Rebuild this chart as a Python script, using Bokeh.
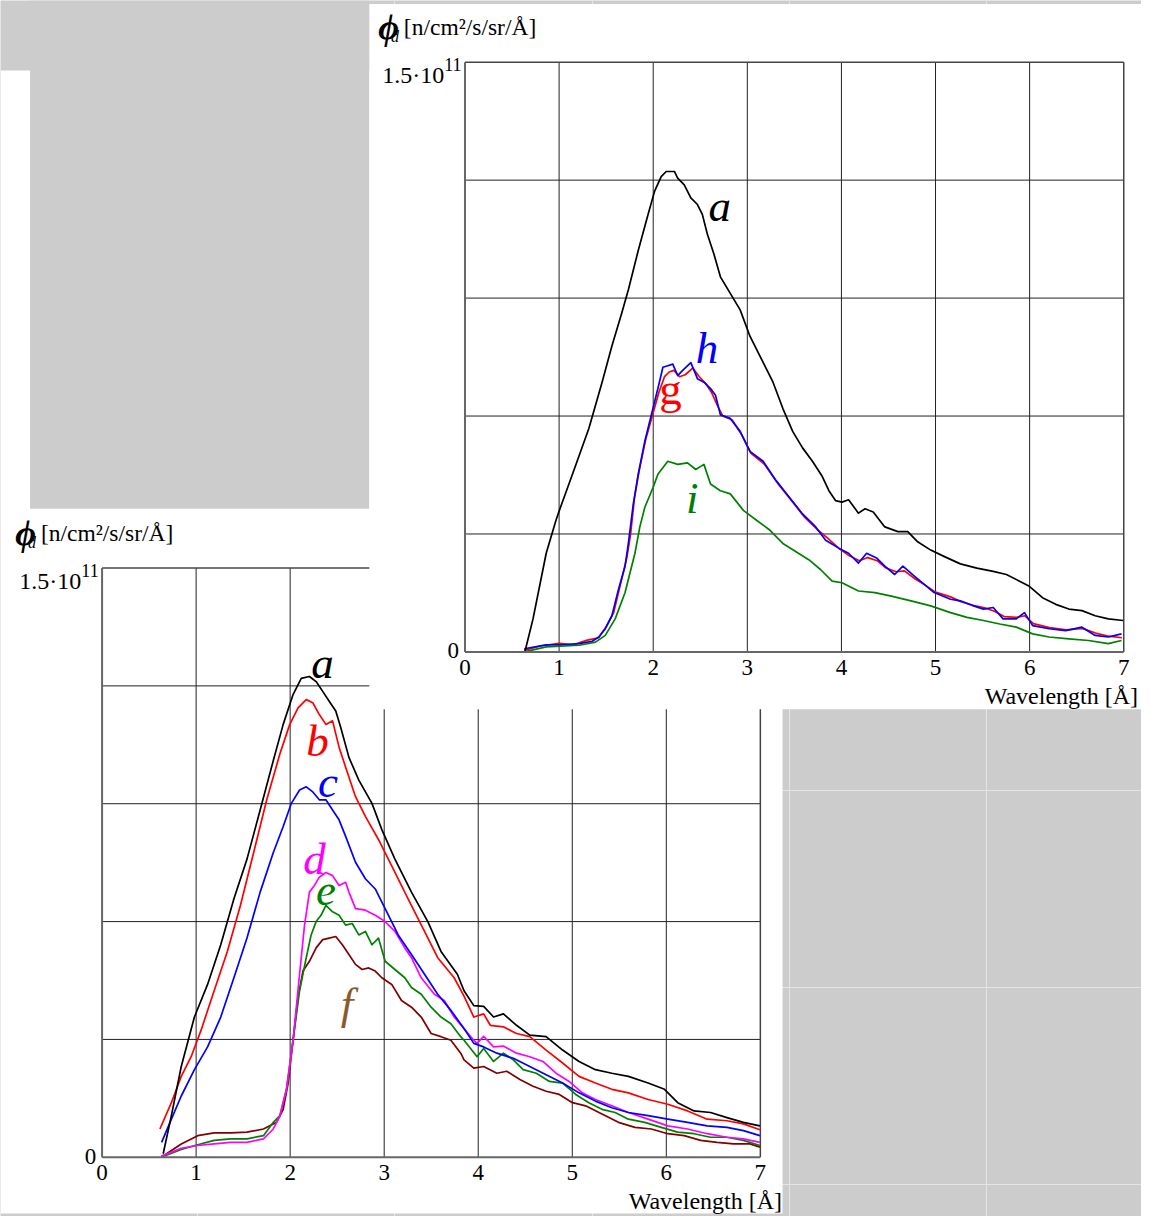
from bokeh.plotting import figure
from bokeh.models import Range1d
from bokeh.embed import file_html
from bokeh.resources import INLINE
from bokeh.core.properties import value

# ---------------- data: flux phi_d in units of 1e11 n/cm^2/s/sr/Å vs wavelength [Å] ----------------
X_TICKS = [0, 1, 2, 3, 4, 5, 6, 7]
X_TICK_LABELS = ["0", "1", "2", "3", "4", "5", "6", "7"]
Y_GRID = [0.3, 0.6, 0.9, 1.2]
Y_MAX = 1.5
Y_TOP_LABEL = "1.5\u00b710"
Y_TOP_EXP = "11"
Y_ZERO_LABEL = "0"
X_TITLE = "Wavelength [\u00c5]"
Y_TITLE_SYM = "\u03d5"
Y_TITLE_SUB = "d"
Y_TITLE_UNIT = "[n/cm\u00b2/s/sr/\u00c5]"

# upper-right panel
TOP_A = [(0.636, 0.0), (0.723, 0.084), (0.863, 0.251), (0.967, 0.335), (1.003, 0.36), (1.142, 0.452),
         (1.317, 0.569), (1.457, 0.686), (1.561, 0.778), (1.666, 0.862), (1.736, 0.921), (1.841, 1.021),
         (1.946, 1.113), (2.015, 1.172), (2.085, 1.209), (2.138, 1.222), (2.225, 1.222), (2.26, 1.205),
         (2.33, 1.188), (2.40, 1.155), (2.47, 1.138), (2.522, 1.113), (2.575, 1.063), (2.644, 1.013),
         (2.714, 0.954), (2.819, 0.912), (2.924, 0.870), (3.028, 0.803), (3.133, 0.753), (3.273, 0.686),
         (3.378, 0.619), (3.482, 0.561), (3.587, 0.519), (3.692, 0.485), (3.797, 0.446), (3.867, 0.41),
         (3.937, 0.385), (4.006, 0.381), (4.076, 0.387), (4.181, 0.353), (4.251, 0.364), (4.338, 0.356),
         (4.461, 0.318), (4.60, 0.306), (4.705, 0.306), (4.81, 0.280), (4.949, 0.259), (5.089, 0.243),
         (5.264, 0.224), (5.439, 0.213), (5.613, 0.205), (5.753, 0.197), (5.893, 0.180), (5.997, 0.167),
         (6.137, 0.138), (6.277, 0.121), (6.416, 0.109), (6.556, 0.105), (6.696, 0.092), (6.836, 0.084),
         (6.993, 0.080)]
TOP_G = [(0.63, 0.004), (0.8, 0.015), (1.0, 0.022), (1.15, 0.018), (1.3, 0.030), (1.42, 0.036),
         (1.5, 0.064), (1.58, 0.100), (1.65, 0.170), (1.72, 0.240), (1.76, 0.300), (1.8, 0.390),
         (1.85, 0.460), (1.92, 0.540), (1.99, 0.600), (2.06, 0.660), (2.12, 0.700), (2.17, 0.712),
         (2.22, 0.716), (2.28, 0.700), (2.34, 0.705), (2.42, 0.722), (2.49, 0.700), (2.56, 0.682),
         (2.62, 0.660), (2.68, 0.628), (2.74, 0.600), (2.84, 0.590), (2.94, 0.552), (3.04, 0.505),
         (3.18, 0.478), (3.32, 0.430), (3.46, 0.388), (3.60, 0.345), (3.74, 0.312), (3.85, 0.290),
         (3.98, 0.262), (4.08, 0.245), (4.19, 0.232), (4.28, 0.240), (4.38, 0.232), (4.47, 0.214),
         (4.58, 0.204), (4.67, 0.206), (4.78, 0.186), (4.89, 0.170), (5.0, 0.152), (5.16, 0.140),
         (5.27, 0.128), (5.41, 0.118), (5.52, 0.112), (5.62, 0.104), (5.73, 0.090), (5.86, 0.088),
         (5.95, 0.092), (6.04, 0.072), (6.21, 0.062), (6.39, 0.056), (6.56, 0.060), (6.70, 0.048),
         (6.84, 0.040), (6.98, 0.036)]
TOP_H = [(0.63, 0.008), (0.863, 0.018), (1.037, 0.018), (1.212, 0.021), (1.352, 0.027), (1.422, 0.038),
         (1.491, 0.059), (1.561, 0.092), (1.631, 0.159), (1.701, 0.218), (1.736, 0.276), (1.789, 0.377),
         (1.841, 0.452), (1.911, 0.536), (1.98, 0.603), (2.05, 0.670), (2.103, 0.724), (2.155, 0.728),
         (2.208, 0.732), (2.26, 0.703), (2.313, 0.716), (2.40, 0.736), (2.47, 0.695), (2.539, 0.686),
         (2.609, 0.670), (2.662, 0.653), (2.714, 0.603), (2.819, 0.594), (2.924, 0.561), (3.028, 0.510),
         (3.168, 0.485), (3.308, 0.435), (3.448, 0.393), (3.587, 0.351), (3.727, 0.318), (3.832, 0.284),
         (3.972, 0.264), (4.076, 0.251), (4.181, 0.226), (4.268, 0.251), (4.373, 0.239), (4.461, 0.218),
         (4.566, 0.197), (4.653, 0.218), (4.775, 0.193), (4.88, 0.172), (4.985, 0.151), (5.159, 0.134),
         (5.264, 0.130), (5.404, 0.117), (5.509, 0.109), (5.613, 0.113), (5.718, 0.084), (5.858, 0.084),
         (5.945, 0.100), (6.032, 0.067), (6.207, 0.059), (6.382, 0.054), (6.556, 0.063), (6.696, 0.042),
         (6.836, 0.038), (6.976, 0.046)]
TOP_I = [(0.63, 0.0), (0.863, 0.013), (1.212, 0.017), (1.387, 0.025), (1.491, 0.042), (1.596, 0.084),
         (1.701, 0.151), (1.806, 0.251), (1.858, 0.318), (1.911, 0.368), (1.998, 0.418), (2.05, 0.452),
         (2.155, 0.485), (2.26, 0.477), (2.365, 0.481), (2.452, 0.464), (2.539, 0.477), (2.609, 0.427),
         (2.714, 0.41), (2.819, 0.402), (2.958, 0.36), (3.098, 0.335), (3.238, 0.31), (3.378, 0.276),
         (3.518, 0.255), (3.657, 0.234), (3.78, 0.209), (3.901, 0.180), (4.006, 0.176), (4.181, 0.155),
         (4.356, 0.151), (4.53, 0.142), (4.74, 0.130), (4.949, 0.117), (5.159, 0.100), (5.334, 0.088),
         (5.509, 0.080), (5.683, 0.071), (5.858, 0.063), (6.032, 0.046), (6.207, 0.038), (6.416, 0.033),
         (6.626, 0.029), (6.836, 0.021), (6.976, 0.029)]

# lower-left panel
BOT_A = [(0.65, 0.009), (0.737, 0.106), (0.842, 0.231), (0.982, 0.357), (1.122, 0.44), (1.262, 0.541),
         (1.402, 0.658), (1.541, 0.759), (1.681, 0.884), (1.821, 1.010), (1.926, 1.102), (2.031, 1.178),
         (2.118, 1.219), (2.205, 1.224), (2.276, 1.211), (2.346, 1.186), (2.415, 1.161), (2.485, 1.136),
         (2.538, 1.094), (2.625, 1.018), (2.73, 0.960), (2.87, 0.901), (2.975, 0.834), (3.114, 0.759),
         (3.29, 0.675), (3.464, 0.600), (3.604, 0.524), (3.778, 0.466), (3.849, 0.424), (3.953, 0.386),
         (4.058, 0.384), (4.163, 0.357), (4.268, 0.365), (4.407, 0.336), (4.548, 0.311), (4.722, 0.307),
         (4.897, 0.273), (5.072, 0.244), (5.246, 0.223), (5.421, 0.214), (5.597, 0.206), (5.806, 0.189),
         (5.981, 0.173), (6.121, 0.139), (6.295, 0.118), (6.47, 0.114), (6.645, 0.101), (6.82, 0.089),
         (6.995, 0.080)]
BOT_B = [(0.615, 0.072), (0.737, 0.139), (0.842, 0.206), (0.947, 0.256), (1.052, 0.323), (1.192, 0.424),
         (1.332, 0.524), (1.471, 0.641), (1.612, 0.776), (1.751, 0.910), (1.891, 1.027), (1.996, 1.102),
         (2.084, 1.144), (2.171, 1.165), (2.241, 1.157), (2.31, 1.127), (2.38, 1.102), (2.451, 1.111),
         (2.52, 1.044), (2.59, 0.993), (2.695, 0.918), (2.80, 0.868), (2.939, 0.809), (3.08, 0.742),
         (3.254, 0.658), (3.429, 0.575), (3.569, 0.508), (3.744, 0.457), (3.849, 0.410), (3.953, 0.357),
         (4.058, 0.365), (4.128, 0.336), (4.268, 0.332), (4.407, 0.315), (4.548, 0.307), (4.722, 0.273),
         (4.897, 0.240), (5.072, 0.206), (5.246, 0.189), (5.421, 0.173), (5.597, 0.164), (5.806, 0.147),
         (6.016, 0.135), (6.226, 0.118), (6.435, 0.097), (6.645, 0.093), (6.82, 0.085), (6.995, 0.070)]
BOT_C = [(0.633, 0.038), (0.737, 0.097), (0.842, 0.156), (0.982, 0.223), (1.122, 0.281), (1.262, 0.357),
         (1.402, 0.457), (1.541, 0.558), (1.681, 0.675), (1.821, 0.776), (1.926, 0.842), (2.013, 0.901),
         (2.10, 0.935), (2.171, 0.943), (2.241, 0.930), (2.31, 0.910), (2.38, 0.910), (2.451, 0.884),
         (2.52, 0.859), (2.59, 0.817), (2.695, 0.751), (2.80, 0.709), (2.905, 0.683), (3.01, 0.633),
         (3.149, 0.566), (3.29, 0.516), (3.429, 0.466), (3.569, 0.415), (3.709, 0.374), (3.849, 0.328),
         (3.953, 0.290), (4.058, 0.281), (4.198, 0.265), (4.373, 0.252), (4.548, 0.231), (4.722, 0.210),
         (4.897, 0.189), (5.072, 0.164), (5.246, 0.143), (5.421, 0.126), (5.597, 0.114), (5.806, 0.106),
         (6.016, 0.097), (6.226, 0.089), (6.435, 0.080), (6.645, 0.076), (6.82, 0.068), (6.995, 0.055)]
BOT_D = [(0.63, 0.003), (0.842, 0.023), (1.017, 0.030), (1.192, 0.034), (1.367, 0.038), (1.541, 0.038),
         (1.716, 0.047), (1.821, 0.072), (1.891, 0.106), (1.961, 0.173), (2.031, 0.298), (2.10, 0.466),
         (2.153, 0.591), (2.205, 0.675), (2.258, 0.692), (2.31, 0.713), (2.38, 0.725), (2.451, 0.717),
         (2.52, 0.692), (2.59, 0.700), (2.625, 0.675), (2.695, 0.633), (2.80, 0.629), (2.905, 0.616),
         (3.01, 0.600), (3.114, 0.575), (3.219, 0.533), (3.29, 0.508), (3.394, 0.457), (3.534, 0.415),
         (3.639, 0.399), (3.744, 0.357), (3.849, 0.327), (3.953, 0.298), (3.988, 0.290), (4.058, 0.308),
         (4.163, 0.281), (4.268, 0.283), (4.407, 0.265), (4.548, 0.256), (4.688, 0.244), (4.827, 0.214),
         (4.967, 0.193), (5.107, 0.164), (5.246, 0.147), (5.421, 0.131), (5.597, 0.114), (5.806, 0.097),
         (6.016, 0.080), (6.226, 0.072), (6.435, 0.060), (6.645, 0.051), (6.82, 0.047), (6.995, 0.038)]
BOT_E = [(0.63, 0.0), (0.842, 0.020), (1.017, 0.032), (1.192, 0.043), (1.367, 0.047), (1.541, 0.047),
         (1.716, 0.055), (1.821, 0.089), (1.891, 0.106), (1.961, 0.173), (2.031, 0.298), (2.10, 0.424),
         (2.171, 0.508), (2.223, 0.566), (2.276, 0.600), (2.328, 0.616), (2.38, 0.641), (2.451, 0.625),
         (2.52, 0.616), (2.59, 0.591), (2.66, 0.595), (2.73, 0.566), (2.80, 0.575), (2.87, 0.541),
         (2.939, 0.558), (3.01, 0.499), (3.114, 0.478), (3.219, 0.457), (3.29, 0.432), (3.394, 0.415),
         (3.499, 0.382), (3.604, 0.357), (3.709, 0.340), (3.814, 0.307), (3.849, 0.298), (3.988, 0.256),
         (4.058, 0.277), (4.163, 0.244), (4.268, 0.265), (4.373, 0.248), (4.478, 0.223), (4.618, 0.214),
         (4.757, 0.193), (4.897, 0.189), (5.037, 0.160), (5.176, 0.139), (5.316, 0.122), (5.456, 0.114),
         (5.597, 0.097), (5.771, 0.089), (5.946, 0.076), (6.121, 0.064), (6.295, 0.060), (6.47, 0.051),
         (6.645, 0.051), (6.82, 0.043), (6.995, 0.030)]
BOT_F = [(0.63, 0.0), (0.842, 0.034), (1.017, 0.055), (1.192, 0.062), (1.367, 0.062), (1.541, 0.064),
         (1.716, 0.072), (1.856, 0.089), (1.926, 0.122), (1.979, 0.189), (2.031, 0.298), (2.084, 0.407),
         (2.136, 0.474), (2.205, 0.499), (2.276, 0.533), (2.346, 0.554), (2.415, 0.558), (2.485, 0.562),
         (2.555, 0.541), (2.625, 0.516), (2.695, 0.491), (2.765, 0.478), (2.835, 0.482), (2.905, 0.474),
         (2.975, 0.457), (3.08, 0.440), (3.184, 0.399), (3.29, 0.382), (3.394, 0.357), (3.499, 0.315),
         (3.604, 0.307), (3.709, 0.298), (3.814, 0.265), (3.849, 0.248), (3.953, 0.227), (4.058, 0.231),
         (4.198, 0.214), (4.303, 0.219), (4.443, 0.198), (4.583, 0.181), (4.722, 0.168), (4.862, 0.160),
         (5.002, 0.139), (5.142, 0.131), (5.316, 0.110), (5.491, 0.089), (5.666, 0.076), (5.841, 0.072),
         (6.016, 0.060), (6.19, 0.055), (6.365, 0.043), (6.54, 0.038), (6.715, 0.034), (6.89, 0.034),
         (6.995, 0.026)]

TOP_SERIES = [("g", TOP_G, "#ff0000"), ("h", TOP_H, "#0000ff"), ("i", TOP_I, "#008000"), ("a", TOP_A, "#000000")]
BOT_SERIES = [("f", BOT_F, "#800000"), ("e", BOT_E, "#008000"), ("d", BOT_D, "#ff00ff"),
              ("c", BOT_C, "#0000ff"), ("b", BOT_B, "#ff0000"), ("a", BOT_A, "#000000")]

# curve letters (label, colour, style)
TOP_LETTERS = [("a", "#000000", "italic"), ("h", "#0000ff", "italic"), ("g", "#ff0000", "normal"), ("i", "#008000", "italic")]
BOT_LETTERS = [("a", "#000000", "italic"), ("b", "#ff0000", "italic"), ("c", "#0000ff", "italic"),
               ("d", "#ff00ff", "italic"), ("e", "#008000", "italic"), ("f", "#8b5a2b", "italic")]

# ---------------- layout (reference pixel space) ----------------
W_REF, H_REF = 1157, 1232
GRAY = "#cccccc"
FONT = value("Liberation Serif")
BASE_FIX = 0.26   # the renderer draws alphabetic baselines about a quarter em low

TOP_FRAME = dict(x0=471.0, x7=1139.0, y0=660.0, ytop=62.5, xt=998.0)
BOT_FRAME = dict(x0=103.0, x7=770.5, y0=1172.0, ytop=575.0, xt=637.0)
TOP_LETTER_POS = [(718, 220), (705, 364), (668, 405), (695, 516)]
BOT_LETTER_POS = [(315, 683), (310, 762), (322, 803), (307, 882), (320, 913), (345, 1028)]

p = figure(width=1141, height=1216, x_range=Range1d(0, W_REF), y_range=Range1d(H_REF, 0),
           output_backend="svg", toolbar_location=None, min_border=0,
           x_axis_location=None, y_axis_location=None)
p.outline_line_color = None
p.background_fill_color = GRAY
p.border_fill_color = GRAY


def ranges_for(fr):
    sx = (fr["x7"] - fr["x0"]) / 7.0
    sy = (fr["y0"] - fr["ytop"]) / Y_MAX
    xr = Range1d((0 - fr["x0"]) / sx, (W_REF - fr["x0"]) / sx)
    yr = Range1d((fr["y0"] - H_REF) / sy, (fr["y0"] - 0) / sy)
    return xr, yr


txr, tyr = ranges_for(TOP_FRAME)
bxr, byr = ranges_for(BOT_FRAME)
p.extra_x_ranges = {"tx": txr, "bx": bxr}
p.extra_y_ranges = {"ty": tyr, "by": byr}


def label(x, y, txt, size, align="left", style="normal", color="#000000", **kw):
    fix = BASE_FIX * size
    p.text(x=x, y=[v - fix for v in y], text=txt, text_font=FONT, text_font_size=f"{size}px",
           text_font_style=style, text_align=align, text_baseline="alphabetic", text_color=color, **kw)


def draw_chart(xn, yn, fr, series, letters, letter_pos):
    gx = X_TICKS[1:-1]
    p.segment(x0=gx, y0=[0] * len(gx), x1=gx, y1=[Y_MAX] * len(gx), x_range_name=xn, y_range_name=yn,
              line_color="#222222", line_width=1)
    p.segment(x0=[0] * len(Y_GRID), y0=Y_GRID, x1=[7] * len(Y_GRID), y1=Y_GRID, x_range_name=xn,
              y_range_name=yn, line_color="#222222", line_width=1)
    p.segment(x0=[0, 7], y0=[Y_MAX, 0], x1=[7, 7], y1=[Y_MAX, Y_MAX], x_range_name=xn, y_range_name=yn,
              line_color="#444444", line_width=1.5)
    for _, pts, col in series:
        p.line([q[0] for q in pts], [q[1] for q in pts], x_range_name=xn, y_range_name=yn,
               line_color=col, line_width=1.7, line_join="round")
    p.segment(x0=[0, 0], y0=[0, 0], x1=[7, 0], y1=[0, Y_MAX], x_range_name=xn, y_range_name=yn,
              line_color="#666666", line_width=2)
    # tick labels
    label(X_TICKS, [fr["y0"] + 21.5] * len(X_TICKS), X_TICK_LABELS, 23, align="center", x_range_name=xn)
    label([fr["x0"] - 6], [fr["y0"] + 5], [Y_ZERO_LABEL], 23, align="right")
    label([fr["x0"] - 21], [fr["ytop"] + 19], [Y_TOP_LABEL], 24, align="right")
    label([fr["x0"] - 21], [fr["ytop"] + 7.5], [Y_TOP_EXP], 18)
    # y title
    label([fr["x0"] - 88], [fr["ytop"] - 26.5], [Y_TITLE_SYM], 36, style="bold italic")
    label([fr["x0"] - 75], [fr["ytop"] - 21.5], [Y_TITLE_SUB], 16, style="italic")
    label([fr["x0"] - 62], [fr["ytop"] - 29.5], [Y_TITLE_UNIT], 23.5)
    # x title
    label([fr["xt"]], [fr["y0"] + 51], [X_TITLE], 24)
    # curve letters
    for (lab, col, sty), (lx, ly) in zip(letters, letter_pos):
        label([lx], [ly], [lab], 45, style=sty, color=col)


# lower-left sheet and grey block
p.quad(left=[0], right=[793], top=[71], bottom=[1229], fill_color="white", line_color=None)
p.quad(left=[30], right=[374], top=[0], bottom=[515], fill_color=GRAY, line_color=None)
draw_chart("bx", "by", BOT_FRAME, BOT_SERIES, BOT_LETTERS, BOT_LETTER_POS)

# upper-right sheet on top
p.quad(left=[374], right=[W_REF], top=[3.5], bottom=[718], fill_color="white", line_color=None)
draw_chart("tx", "ty", TOP_FRAME, TOP_SERIES, TOP_LETTERS, TOP_LETTER_POS)

open("out.html", "w").write(file_html(p, INLINE))
